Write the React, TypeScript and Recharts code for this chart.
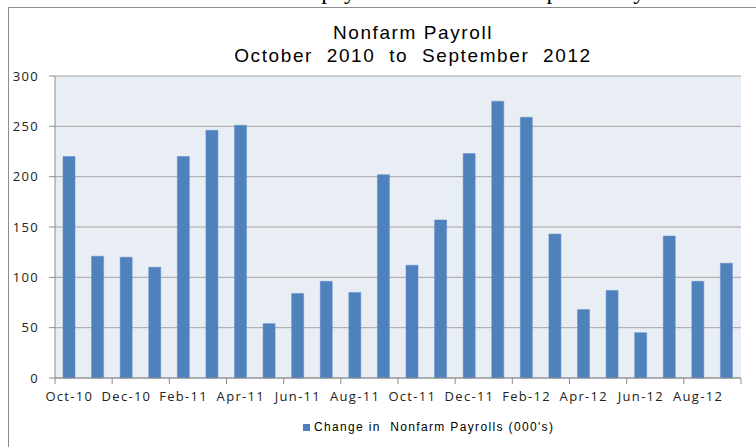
import React from 'react';
import { BarChart, Bar, XAxis, YAxis, CartesianGrid, Legend } from 'recharts';

const months = ['Oct-10','Nov-10','Dec-10','Jan-11','Feb-11','Mar-11','Apr-11','May-11','Jun-11','Jul-11','Aug-11','Sep-11','Oct-11','Nov-11','Dec-11','Jan-12','Feb-12','Mar-12','Apr-12','May-12','Jun-12','Jul-12','Aug-12','Sep-12'];
const payrolls = [220,121,120,110,220,246,251,54,84,96,85,202,112,157,223,275,259,143,68,87,45,141,96,114];
const yTicks = [0, 50, 100, 150, 200, 250, 300];
const seriesName = "Change in  Nonfarm Payrolls (000's)";
const titleLine1 = 'Nonfarm Payroll';
const titleLine2 = 'October  2010  to  September  2012';
const topSentence = 'The table below shows the nonfarm payroll values over the past two years.';

const data = months.map((m, i) => ({ month: m, value: payrolls[i] }));

const W = 756;
const H = 447;
const margin = { top: 76, right: 15, bottom: 25, left: 8 };
const yAxisW = 47;
const plotW = W - margin.left - margin.right - yAxisW;
const band = plotW / months.length;
const tickFont = "'Open Sans', sans-serif";

const XTick = (props: any) => {
  const { x, y, payload, index } = props;
  const lineTop = y - 14;
  const lineBot = y - 8;
  const lastIdx = months.length - 2;
  return (
    <g>
      <line x1={x - band / 2} x2={x - band / 2} y1={lineTop} y2={lineBot} stroke="#8c8c8c" />
      {payload.index === lastIdx || index === Math.floor(lastIdx / 2) ? (
        <line x1={x + 1.5 * band} x2={x + 1.5 * band} y1={lineTop} y2={lineBot} stroke="#8c8c8c" />
      ) : null}
      <text x={x} y={y} dy="0.71em" textAnchor="middle" fontSize={13} fontFamily={tickFont} fill="#222" letterSpacing={1.3}>
        {payload.value}
      </text>
    </g>
  );
};

export default function App() {
  return (
    <div style={{ position: 'absolute', left: 0, top: 0, width: W, height: H, background: '#fff', overflow: 'hidden' }}>
      <div style={{ position: 'absolute', left: -28, top: -21, whiteSpace: 'nowrap', fontFamily: "'Liberation Serif', serif", fontSize: 24, lineHeight: '24px', color: '#000' }}>
        {topSentence}
      </div>
      <div style={{ position: 'absolute', left: 8, top: 7, width: 900, height: 600, border: '1px solid #8c8c8c', boxSizing: 'border-box', background: '#fff' }} />
      <div style={{ position: 'absolute', left: 0, top: 0 }}>
        <BarChart width={W} height={H} data={data} margin={margin} barSize={12}>
          <CartesianGrid vertical={false} stroke="#a6a6a6" fill="#E9EDF4" />
          <XAxis
            dataKey="month"
            interval={1}
            tickLine={false}
            tickSize={6}
            tickMargin={8}
            height={30}
            axisLine={{ stroke: '#8c8c8c' }}
            tick={<XTick />}
          />
          <YAxis
            width={yAxisW}
            domain={[0, 300]}
            ticks={yTicks}
            tickSize={6}
            tickMargin={10}
            axisLine={{ stroke: '#8c8c8c' }}
            tickLine={{ stroke: '#8c8c8c' }}
            tick={{ fontSize: 13, fontFamily: tickFont, fill: '#222', letterSpacing: 1.3 }}
          />
          <Legend
            verticalAlign="bottom"
            align="left"
            iconType="square"
            iconSize={7}
            wrapperStyle={{ left: 303, top: 420, width: 300, lineHeight: '14px', fontSize: 12, fontFamily: "'Liberation Sans', Arial, sans-serif" }}
            formatter={(value: any) => <span style={{ color: '#000', letterSpacing: 1.35, whiteSpace: 'pre' }}>{value}</span>}
          />
          <Bar dataKey="value" name={seriesName} fill="#4F81BD" stroke="#5b8cc8" strokeWidth={0.5} isAnimationActive={false} />
        </BarChart>
      </div>
      <div style={{ position: 'absolute', left: 0, width: 826, top: 21, textAlign: 'center', whiteSpace: 'pre', fontFamily: "'Liberation Sans', Arial, sans-serif", fontSize: 19, lineHeight: '23px', letterSpacing: 1.6, color: '#000' }}>
        <div>{titleLine1}</div>
        <div>{titleLine2}</div>
      </div>
    </div>
  );
}
